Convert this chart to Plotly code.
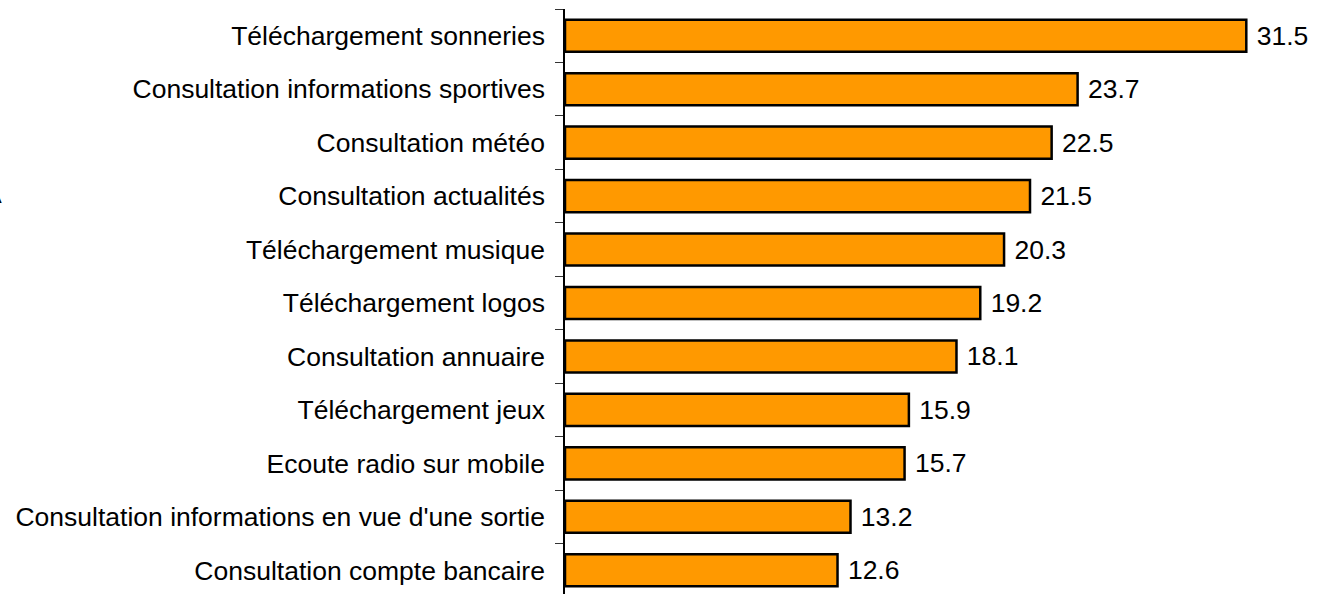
import plotly.graph_objects as go

categories = [
    "Téléchargement sonneries",
    "Consultation informations sportives",
    "Consultation météo",
    "Consultation actualités",
    "Téléchargement musique",
    "Téléchargement logos",
    "Consultation annuaire",
    "Téléchargement jeux",
    "Ecoute radio sur mobile",
    "Consultation informations en vue d'une sortie",
    "Consultation compte bancaire",
]
values = [31.5, 23.7, 22.5, 21.5, 20.3, 19.2, 18.1, 15.9, 15.7, 13.2, 12.6]

FONT = "Liberation Sans, Arial, sans-serif"

fig = go.Figure()
fig.add_trace(go.Bar(
    y=categories,
    x=values,
    orientation="h",
    width=0.6,
    marker=dict(color="#FF9900", line=dict(color="black", width=2.5)),
    text=[f" {v:.1f}" for v in values],
    textposition="outside",
    textfont=dict(family=FONT, size=26.5, color="black"),
    cliponaxis=False,
))

fig.update_layout(
    width=1330,
    height=597,
    margin=dict(l=565, r=8, t=9, b=0),
    plot_bgcolor="white",
    paper_bgcolor="white",
    showlegend=False,
    font=dict(family=FONT, size=26.5, color="black"),
    xaxis=dict(range=[0, 35], visible=False, showgrid=False, zeroline=False),
    yaxis=dict(
        autorange="reversed",
        automargin=False,
        showline=True,
        linecolor="black",
        linewidth=1.5,
        ticks="outside",
        ticklen=8,
        tickcolor="#333333",
        tickson="boundaries",
        ticklabelstandoff=13,
        showgrid=False,
        tickfont=dict(family=FONT, size=26.5, color="black"),
    ),
)
fig.add_annotation(text="A", xref="paper", yref="paper", x=-572/757, y=1 - (194 - 9) / 588,
                   xanchor="center", yanchor="middle", showarrow=False,
                   font=dict(family=FONT, size=26.5, color="black"))

fig.write_html("out.html", config={"displayModeBar": False})

with open("out.html", "r", encoding="utf-8") as f:
    html = f.read()
html = html.replace("<head>", "<head><style>html,body{margin:0;padding:0;overflow:hidden}</style>", 1)
with open("out.html", "w", encoding="utf-8") as f:
    f.write(html)
